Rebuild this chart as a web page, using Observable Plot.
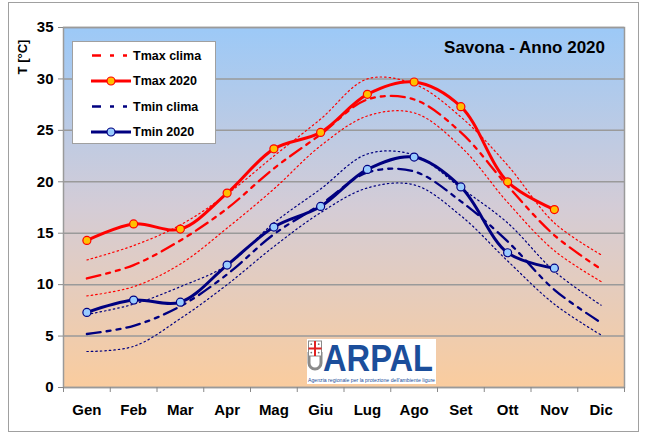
<!DOCTYPE html>
<html>
<head>
<meta charset="utf-8">
<script src="https://cdn.jsdelivr.net/npm/d3@7"></script>
<script src="https://cdn.jsdelivr.net/npm/@observablehq/plot@0.6"></script>
<style>
  html, body { margin: 0; padding: 0; background: white; }
  #wrap { position: relative; width: 645px; height: 435px; font-family: "Liberation Sans", Arial, sans-serif; overflow: hidden; }
  #wrap svg.plot { position: absolute; left: 0; top: 0; }
  .ov { position: absolute; }
</style>
</head>
<body>
<div id="wrap"></div>
<script>
const months = ["Gen","Feb","Mar","Apr","Mag","Giu","Lug","Ago","Set","Ott","Nov","Dic"];
const yTicks = [0,5,10,15,20,25,30,35];

const tmax2020  = [14.3,15.9,15.4,18.9,23.2,24.8,28.5,29.7,27.3,20.0,17.3];
const tmin2020  = [7.3,8.5,8.3,11.9,15.6,17.6,21.2,22.4,19.5,13.1,11.6];

const tmaxClima = [10.6,11.9,14.3,17.4,21.3,24.6,28.0,28.0,24.8,19.6,14.8,11.5];
const tmaxUpper = [12.4,13.8,15.8,18.8,22.5,26.1,30.0,29.5,26.3,21.6,16.0,12.9];
const tmaxLower = [8.9,9.8,12.0,15.5,19.3,23.5,26.4,26.7,23.4,18.0,13.3,10.3];

const tminClima = [5.2,6.0,7.9,11.0,14.9,17.8,20.9,21.0,18.1,14.2,9.5,6.3];
const tminUpper = [7.1,8.1,9.8,11.9,16.0,19.3,22.7,22.6,19.4,16.0,11.3,8.0];
const tminLower = [3.5,4.0,6.7,10.0,13.7,17.0,19.4,19.7,16.7,12.3,8.1,5.1];

const title = "Savona - Anno 2020";
const yLabel = "T [°C]";
const legendItems = [
  {label: "Tmax clima", color: "#FF0000", kind: "clima"},
  {label: "Tmax 2020", color: "#FF0000", kind: "obs", fill: "#FFC000"},
  {label: "Tmin clima", color: "#000080", kind: "clima"},
  {label: "Tmin 2020", color: "#000080", kind: "obs", fill: "#99CCFF"}
];

const RED = "#FF0000", NAVY = "#000080";
const rows = arr => arr.map((v, i) => ({i, v}));
const boundaries = d3.range(months.length + 1).map(k => k - 0.5);
const climaDash = "14,6,4,6,4,6";
const dotDash = "1.5,3";

const lineOpts = {x: "i", y: "v", curve: "catmull-rom"};

const plot = Plot.plot({
  width: 645, height: 435,
  marginLeft: 63, marginRight: 21, marginTop: 27, marginBottom: 48,
  style: {fontFamily: '"Liberation Sans", Arial, sans-serif', fontWeight: "bold", background: "transparent", color: "black", overflow: "visible"},
  x: {domain: [-0.5, months.length - 0.5]},
  y: {domain: [0, 35]},
  marks: [
    Plot.frame({fill: "url(#bgGrad)", stroke: null}),
    Plot.gridY({ticks: yTicks, stroke: "#9a9a9a", strokeOpacity: 1, strokeWidth: 1.5}),
    Plot.frame({stroke: "#9a9a9a", strokeWidth: 1.5}),
    Plot.axisY({ticks: yTicks, tickSize: 5, tickPadding: 5, label: null, fontSize: 15, stroke: "#888", fill: "black"}),
    Plot.axisX({ticks: boundaries, tickSize: 5, tickFormat: () => "", label: null, stroke: "#888"}),
    Plot.axisX({ticks: d3.range(months.length), tickSize: 0, tickPadding: 17, tickFormat: i => months[i], label: null, fontSize: 15, fill: "black"}),

    Plot.line(rows(tmaxUpper), {...lineOpts, stroke: RED, strokeWidth: 1.2, strokeDasharray: dotDash}),
    Plot.line(rows(tmaxLower), {...lineOpts, stroke: RED, strokeWidth: 1.2, strokeDasharray: dotDash}),
    Plot.line(rows(tminUpper), {...lineOpts, stroke: NAVY, strokeWidth: 1.2, strokeDasharray: dotDash}),
    Plot.line(rows(tminLower), {...lineOpts, stroke: NAVY, strokeWidth: 1.2, strokeDasharray: dotDash}),

    Plot.line(rows(tmaxClima), {...lineOpts, stroke: RED, strokeWidth: 2.3, strokeDasharray: climaDash}),
    Plot.line(rows(tminClima), {...lineOpts, stroke: NAVY, strokeWidth: 2.3, strokeDasharray: climaDash}),

    Plot.line(rows(tmax2020), {...lineOpts, stroke: RED, strokeWidth: 3}),
    Plot.line(rows(tmin2020), {...lineOpts, stroke: NAVY, strokeWidth: 3}),
    Plot.dot(rows(tmax2020), {x: "i", y: "v", r: 4, fill: "#FFC000", stroke: RED, strokeWidth: 1.2}),
    Plot.dot(rows(tmin2020), {x: "i", y: "v", r: 4, fill: "#99CCFF", stroke: NAVY, strokeWidth: 1.2})
  ]
});
plot.classList.add("plot");
const ns = "http://www.w3.org/2000/svg";
const defs = document.createElementNS(ns, "defs");
defs.innerHTML = '<linearGradient id="bgGrad" x1="0" y1="0" x2="0" y2="1">' +
  '<stop offset="0" stop-color="#9CC9F7"/>' +
  '<stop offset="0.5" stop-color="#D4CCD6"/>' +
  '<stop offset="1" stop-color="#FACC9E"/></linearGradient>';
plot.insertBefore(defs, plot.firstChild);

const wrap = document.getElementById("wrap");
wrap.appendChild(plot);

// outer chart border
const border = document.createElement("div");
border.className = "ov";
border.style.cssText = "left:8px;top:2px;width:631px;height:430px;border:1px solid #a0a0a0;box-sizing:border-box;pointer-events:none;";
wrap.appendChild(border);

// y label
const yl = document.createElement("div");
yl.className = "ov";
yl.textContent = yLabel;
yl.style.cssText = "left:22px;top:57px;transform:translate(-50%,-50%) rotate(-90deg);font-weight:bold;font-size:13px;white-space:nowrap;";
wrap.appendChild(yl);

// title
const tt = document.createElement("div");
tt.className = "ov";
tt.textContent = title;
tt.style.cssText = "right:40px;top:38px;font-weight:bold;font-size:17px;white-space:nowrap;";
wrap.appendChild(tt);

// legend
const lg = document.createElement("div");
lg.className = "ov";
lg.style.cssText = "left:72px;top:41px;width:144px;height:103px;background:white;border:1px solid #a0a0a0;box-sizing:border-box;";
let lsvg = '<svg width="144" height="103" xmlns="' + ns + '">';
legendItems.forEach((d, k) => {
  const y = 13.5 + k * 25.5;
  if (d.kind === "clima") {
    lsvg += `<line x1="19" x2="58" y1="${y}" y2="${y}" stroke="${d.color}" stroke-width="2.5" stroke-dasharray="9,9,4,9,4,9"/>`;
  } else {
    lsvg += `<line x1="18" x2="58" y1="${y}" y2="${y}" stroke="${d.color}" stroke-width="3"/>`;
    lsvg += `<circle cx="38" cy="${y}" r="4" fill="${d.fill}" stroke="${d.color}" stroke-width="1.2"/>`;
  }
  lsvg += `<text x="60" y="${y}" dy="0.35em" font-size="12.5" font-weight="bold" font-family="Liberation Sans, Arial, sans-serif">${d.label}</text>`;
});
lsvg += '</svg>';
lg.innerHTML = lsvg;
wrap.appendChild(lg);

// ARPAL logo
const logo = document.createElement("div");
logo.className = "ov";
logo.style.cssText = "left:307px;top:339px;width:129px;height:45px;background:white;";
logo.innerHTML = `<svg width="129" height="45" xmlns="${ns}" style="overflow:visible">
  <path d="M2,13 L2,24 A6,6 0 0 0 14,24 L14,13" fill="none" stroke="#8a8a8a" stroke-width="3"/>
  <rect x="1.5" y="2" width="13" height="15" fill="white" stroke="#8a8a8a" stroke-width="1"/>
  <rect x="7" y="2" width="2" height="15" fill="#e02020"/>
  <rect x="1.5" y="8.5" width="13" height="2" fill="#e02020"/>
  <circle cx="4.3" cy="5.2" r="0.9" fill="#777"/><circle cx="11.7" cy="5.2" r="0.9" fill="#777"/>
  <circle cx="4.3" cy="13.6" r="0.9" fill="#777"/><circle cx="11.7" cy="13.6" r="0.9" fill="#777"/>
  <text x="16" y="32" font-size="36" font-weight="bold" fill="#1B4E9B" textLength="110" lengthAdjust="spacingAndGlyphs" font-family="Liberation Sans, Arial, sans-serif">ARPAL</text>
  <text x="1" y="42.5" font-size="4.6" fill="#1B4E9B" textLength="127" lengthAdjust="spacingAndGlyphs" font-family="Liberation Sans, Arial, sans-serif">Agenzia regionale per la protezione dell'ambiente ligure</text>
</svg>`;
wrap.appendChild(logo);
</script>
</body>
</html>
